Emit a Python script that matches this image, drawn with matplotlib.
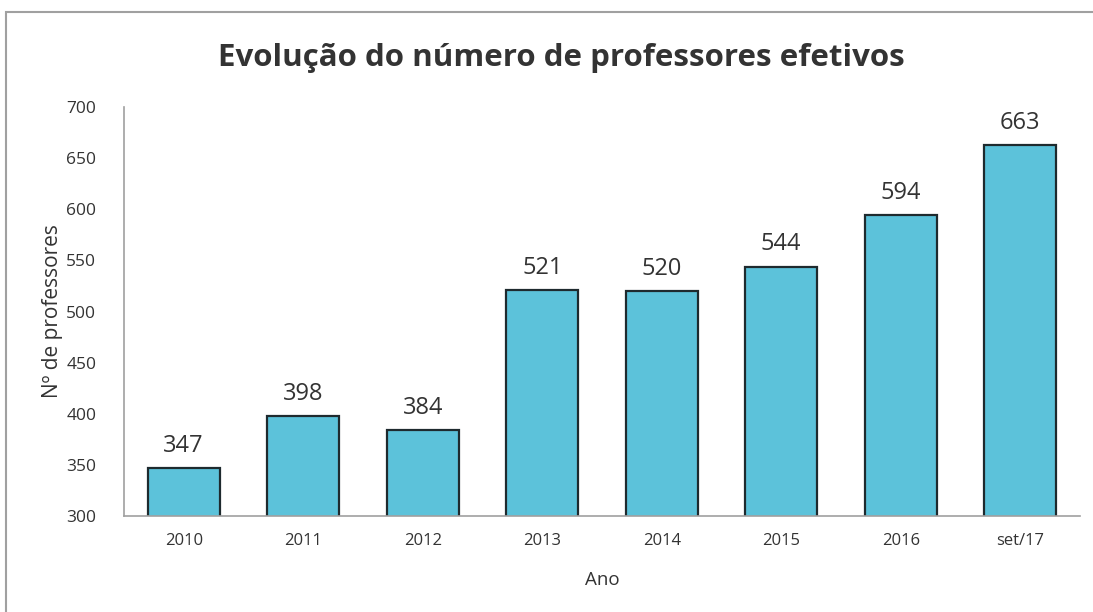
import matplotlib.pyplot as plt
from matplotlib.patches import Rectangle

# number of effective teachers per year
anos = ["2010", "2011", "2012", "2013", "2014", "2015", "2016", "set/17"]
professores = [347, 398, 384, 521, 520, 544, 594, 663]

plt.rcParams['font.family'] = ['Open Sans', 'DejaVu Sans']

fig = plt.figure(figsize=(10.93, 6.12), dpi=100)
ax = fig.add_axes([124 / 1093, 1 - 516 / 612, 956 / 1093, 409 / 612])

# outer chart frame
fig.patches.append(Rectangle((6 / 1093, -0.1), 1.2, 1 - 12 / 612 + 0.1,
                             transform=fig.transFigure, fill=False,
                             edgecolor="#a0a0a0", linewidth=1.5))

x = range(len(anos))
bars = ax.bar(x, professores, width=0.6, color="#5cc2da", edgecolor="#1e2a2e",
              linewidth=1.6)
for xi, v in zip(x, professores):
    ax.text(xi, v + 10, str(v), ha="center", va="bottom", fontsize=17, color="#333333")

ax.set_xlim(-0.5, len(anos) - 0.5)
ax.set_ylim(300, 700)
ax.set_yticks(range(300, 701, 50))
ax.set_xticks(list(x))
ax.set_xticklabels(anos)
ax.tick_params(axis="y", length=0, labelsize=12.5, colors="#333333", pad=20)
ax.tick_params(axis="x", length=0, labelsize=12, colors="#333333", pad=12)
for s in ["top", "right"]:
    ax.spines[s].set_visible(False)
for s in ["left", "bottom"]:
    ax.spines[s].set_color("#a0a0a0")
    ax.spines[s].set_linewidth(1.2)

ax.set_xlabel("Ano", fontsize=13.5, color="#333333", labelpad=16)
ax.set_ylabel("Nº de professores", fontsize=15, color="#333333", labelpad=2)
fig.text(0.514, 1 - 58 / 612, "Evolução do número de professores efetivos",
         ha="center", va="center", fontsize=22.5, fontweight="bold", color="#333333")

fig.savefig("out.png", dpi=100)
